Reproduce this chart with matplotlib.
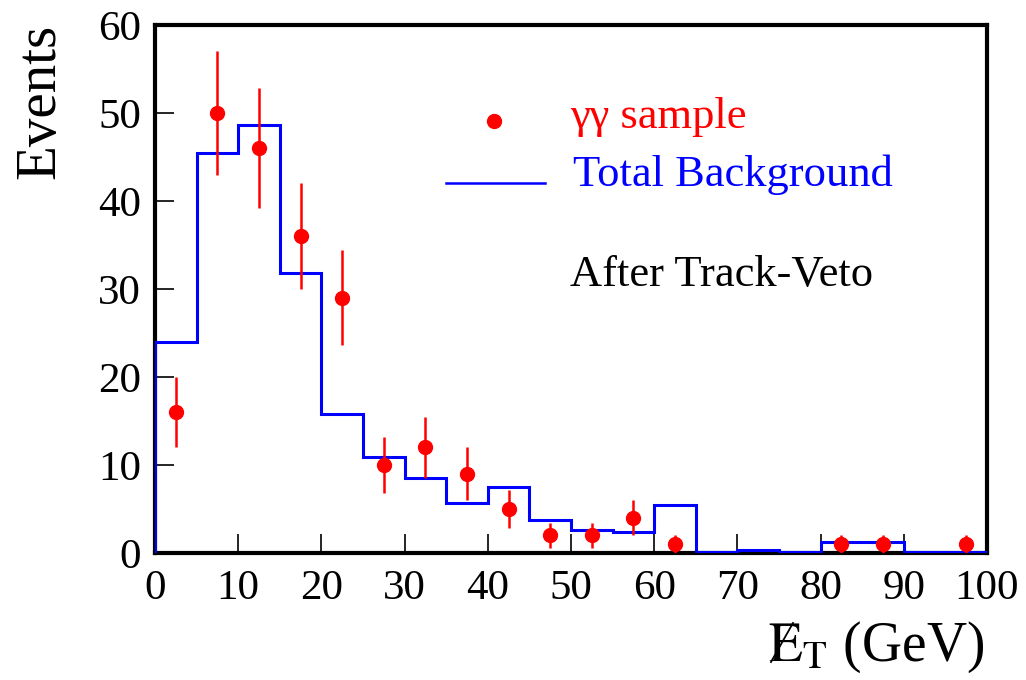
import numpy as np
import matplotlib
matplotlib.use("Agg")
import matplotlib.pyplot as plt
from matplotlib.lines import Line2D

plt.rcParams['font.family'] = ['Liberation Serif', 'DejaVu Serif']
plt.rcParams['mathtext.fontset'] = 'stix'

# Background histogram (bin edges and contents)
bin_edges = [0, 5, 10, 15, 20, 25, 30, 35, 40, 45, 50, 55, 60, 65, 70, 75, 80, 85, 90, 95, 100]
bkg_values = [24.0, 45.5, 48.6, 31.8, 15.8, 10.9, 8.5, 5.7, 7.5, 3.8, 2.6, 2.4, 5.5, 0.15, 0.35, 0.15, 1.2, 1.2, 0.1, 0.15]

# gamma-gamma sample points
data_x = [2.5, 7.5, 12.5, 17.5, 22.5, 27.5, 32.5, 37.5, 42.5, 47.5, 52.5, 57.5, 62.5, 82.5, 87.5, 97.5]
data_y = [16, 50, 46, 36, 29, 10, 12, 9, 5, 2, 2, 4, 1, 1, 1, 1]
data_err = [4.0, 7.1, 6.8, 6.0, 5.4, 3.2, 3.5, 3.0, 2.2, 1.4, 1.4, 2.0, 1.0, 1.0, 1.0, 1.0]

xticks = [0, 10, 20, 30, 40, 50, 60, 70, 80, 90, 100]
yticks = [0, 10, 20, 30, 40, 50, 60]

W, H = 1026, 680
fig = plt.figure(figsize=(W/100, H/100), dpi=100)
ax = fig.add_axes([155/W, 1-553/H, (987-155)/W, (553-25)/H])

ax.stairs(bkg_values, bin_edges, color='#0000ff', linewidth=2.2, baseline=0, zorder=3)
ax.errorbar(data_x, data_y, yerr=data_err, fmt='o', color='#ff0000', ecolor='#ff0000',
            markersize=10, elinewidth=1.8, capsize=0, zorder=5)

ax.set_xlim(0, 100)
ax.set_ylim(0, 60)
ax.set_xticks(xticks)
ax.set_yticks(yticks)
ax.tick_params(direction='in', length=14, width=1.2, labelsize=31, pad=10)
ax.tick_params(axis='x', pad=12)
for s in ax.spines.values():
    s.set_linewidth(3)
    s.set_zorder(2)

# legend drawn manually
ax.plot([40.7], [49.1], 'o', color='#ff0000', markersize=10)
ax.text(49.9, 49.6, 'γγ sample', color='#ff0000', fontsize=32, va='center', ha='left')
ax.plot([35.0, 46.9], [42.0, 42.0], color='#0000ff', linewidth=1.8)
ax.text(50.2, 43.0, 'Total Background', color='#0000ff', fontsize=32, va='center', ha='left')
ax.text(49.9, 31.6, 'After Track-Veto', color='black', fontsize=32, va='center', ha='left')

# y label
fig.text(40/W, 1-101/H, 'Events', rotation=90, fontsize=41, ha='center', va='center')

# x label with slashed E
fig.text(768/W, 1-661/H, r'$\mathrm{E}_{\mathrm{T}}$ (GeV)', fontsize=40, ha='left', va='baseline')
fig.add_artist(Line2D([771/W, 793/W], [1-662/H, 1-623/H], color='black', linewidth=1.3,
                      transform=fig.transFigure))

fig.savefig('out.png', dpi=100)
